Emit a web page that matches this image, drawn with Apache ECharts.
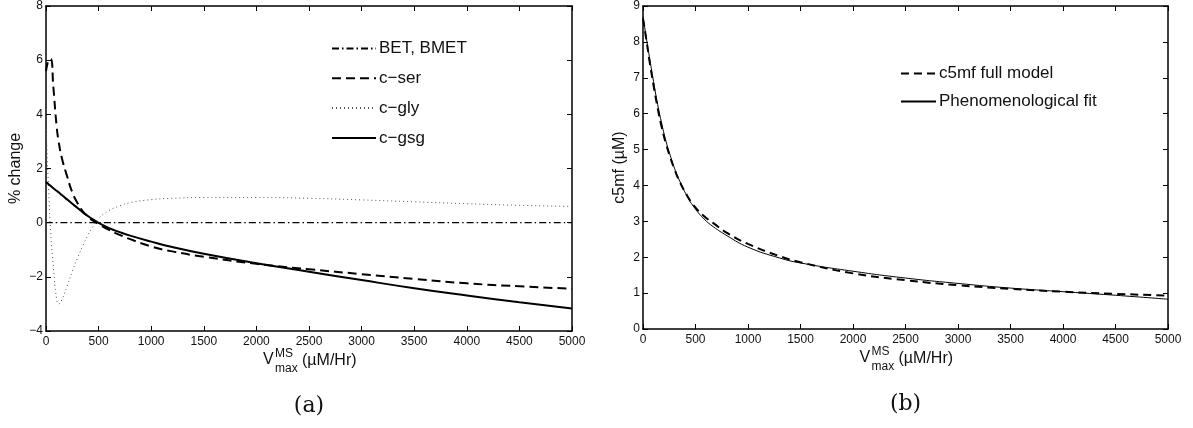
<!DOCTYPE html>
<html>
<head>
<meta charset="utf-8">
<script src="https://cdn.jsdelivr.net/npm/echarts@6/dist/echarts.min.js"></script>
<style>
  html, body { margin: 0; padding: 0; background: #fff; }
  #chart { width: 1193px; height: 428px; }
</style>
</head>
<body>
<div id="chart"></div>
<script>
// ---- Panel (a): % change vs V_max^MS ----
const xA = [0, 10, 25, 45, 70, 100, 120, 150, 200, 250, 300, 350, 400, 450, 500, 600, 700, 800, 1000, 1200, 1500, 2000, 2500, 3000, 3500, 4000, 4500, 5000];
const cSer = [5.6, 5.8, 6.0, 6.05, 5.0, 3.6, 3.0, 2.4, 1.72, 1.12, 0.72, 0.42, 0.22, 0.06, -0.05, -0.27, -0.45, -0.61, -0.88, -1.06, -1.26, -1.52, -1.72, -1.9, -2.08, -2.24, -2.35, -2.44];
const cGly = [3.6, 2.6, 1.2, -0.4, -1.6, -2.8, -3.0, -2.85, -2.35, -1.8, -1.3, -0.85, -0.45, -0.12, 0.15, 0.45, 0.62, 0.74, 0.85, 0.9, 0.93, 0.93, 0.9, 0.84, 0.77, 0.7, 0.64, 0.6];
const cGsg = [1.5, 1.47, 1.42, 1.35, 1.27, 1.18, 1.12, 1.02, 0.86, 0.7, 0.54, 0.38, 0.24, 0.11, -0.01, -0.2, -0.35, -0.48, -0.7, -0.9, -1.15, -1.5, -1.81, -2.12, -2.42, -2.69, -2.94, -3.17];
const xBet = [0, 5000];
const betBmet = [0, 0];

// ---- Panel (b): c5mf vs V_max^MS ----
const xB = [0, 35, 60, 100, 140, 180, 220, 260, 300, 350, 420, 480, 580, 670, 800, 1000, 1300, 1500, 2000, 2500, 3000, 3500, 4000, 4500, 5000];
const c5mfFull = [8.65, 8.0, 7.5, 6.8, 6.15, 5.6, 5.15, 4.78, 4.45, 4.1, 3.72, 3.45, 3.15, 2.95, 2.68, 2.37, 2.03, 1.86, 1.55, 1.36, 1.22, 1.12, 1.04, 0.98, 0.93];
const c5mfFit = [8.7, 8.05, 7.6, 6.9, 6.25, 5.7, 5.22, 4.83, 4.48, 4.12, 3.7, 3.42, 3.07, 2.85, 2.6, 2.28, 1.98, 1.84, 1.61, 1.42, 1.27, 1.14, 1.04, 0.94, 0.83];

const namesA = ['BET, BMET', 'c\u2212ser', 'c\u2212gly', 'c\u2212gsg'];
const namesB = ['c5mf full model', 'Phenomenological fit'];
const xTicks = { min: 0, max: 5000, interval: 500 };
const yTicksA = { min: -4, max: 8, interval: 2 };
const yTicksB = { min: 0, max: 9, interval: 1 };

const pairs = (xs, ys) => xs.map((x, i) => [x, ys[i]]);
const FONT = "'Liberation Sans', Arial, Helvetica, sans-serif";
const minus = v => String(v).replace('-', '\u2212');

function axis(kind, gridIndex, ticks, position, labels) {
  return {
    type: 'value', gridIndex, position,
    min: ticks.min, max: ticks.max, interval: ticks.interval,
    axisLine: { show: true, onZero: false, lineStyle: { color: '#000', width: 1.5 } },
    axisTick: { show: true, inside: true, length: 5, lineStyle: { color: '#000', width: 1 } },
    axisLabel: { show: labels, color: '#111', fontSize: 12, fontFamily: FONT,
                 margin: kind === 'x' ? 5 : 3, formatter: minus },
    splitLine: { show: false }
  };
}

function line(name, xs, ys, axisIdx, style) {
  return {
    name, type: 'line', xAxisIndex: axisIdx, yAxisIndex: axisIdx,
    data: pairs(xs, ys), symbol: 'none', showSymbol: false,
    smooth: 0.5, clip: true, color: style.color,
    itemStyle: { color: style.color },
    lineStyle: style, z: 3
  };
}

function legendBox(names, left, top, iconWidth, gap) {
  return {
    data: names, orient: 'vertical', left, top, padding: 0,
    itemWidth: iconWidth, itemHeight: 14, itemGap: gap,
    itemStyle: { opacity: 0, borderWidth: 0 },
    textStyle: { fontSize: 17, fontFamily: FONT, color: '#111', padding: [0, 0, 0, -2] },
    selectedMode: false
  };
}

const chart = echarts.init(document.getElementById('chart'), null, { renderer: 'canvas' });

chart.setOption({
  animation: false,
  backgroundColor: '#fff',
  grid: [
    { left: 46, right: 621, top: 6, bottom: 97 },
    { left: 643, right: 25, top: 6, bottom: 99 }
  ],
  xAxis: [
    axis('x', 0, xTicks, 'bottom', true),
    axis('x', 1, xTicks, 'bottom', true),
    axis('x', 0, xTicks, 'top', false),
    axis('x', 1, xTicks, 'top', false)
  ],
  yAxis: [
    Object.assign(axis('y', 0, yTicksA, 'left', true), {
      name: '% change', nameLocation: 'middle', nameGap: 22, nameRotate: 90,
      nameTextStyle: { fontSize: 16, fontFamily: FONT, color: '#111' }
    }),
    Object.assign(axis('y', 1, yTicksB, 'left', true), {
      name: 'c5mf (\u00b5M)', nameLocation: 'middle', nameGap: 15, nameRotate: 90,
      nameTextStyle: { fontSize: 16, fontFamily: FONT, color: '#111' }
    }),
    axis('y', 0, yTicksA, 'right', false),
    axis('y', 1, yTicksB, 'right', false)
  ],
  legend: [
    legendBox(namesA, 331, 40, 44, 12.8),
    legendBox(namesB, 900, 65, 35, 11.1)
  ],
  series: [
    line(namesA[0], xBet, betBmet, 0, { color: '#000', width: 1.4, type: [7, 3, 1.5, 3] }),
    line(namesA[1], xA, cSer, 0, { color: '#000', width: 2, type: [9, 5] }),
    line(namesA[2], xA, cGly, 0, { color: '#555', width: 1, type: [1, 3] }),
    line(namesA[3], xA, cGsg, 0, { color: '#000', width: 2, type: 'solid' }),
    line(namesB[0], xB, c5mfFull, 1, { color: '#000', width: 2, type: [8, 5] }),
    line(namesB[1], xB, c5mfFit, 1, { color: '#000', width: 1, type: 'solid' })
  ]
});

// Axis titles with super/subscripts and panel captions, placed from grid coordinates
function xTitle(gridIndex, yMin) {
  const p = chart.convertToPixel({ xAxisIndex: gridIndex, yAxisIndex: gridIndex }, [2500, yMin]);
  const cx = p[0], base = p[1];
  const t = (text, x, y, size) => ({
    type: 'text', x, y,
    style: { text, font: size + 'px ' + FONT, fill: '#111', textAlign: 'left', textVerticalAlign: 'middle' }
  });
  return [
    t('V', cx - 46, base + 29, 16),
    t('MS', cx - 34, base + 23, 12),
    t('max', cx - 34, base + 38, 12),
    t('(\u00b5M/Hr)', cx - 7, base + 30, 16),
    {
      type: 'text', x: cx, y: base + 75,
      style: { text: gridIndex === 0 ? '(a)' : '(b)', font: '22px "DejaVu Serif", "Liberation Serif", serif',
               fill: '#111', textAlign: 'center', textVerticalAlign: 'middle' }
    }
  ];
}

chart.setOption({ graphic: xTitle(0, -4).concat(xTitle(1, 0)) });
</script>
</body>
</html>
